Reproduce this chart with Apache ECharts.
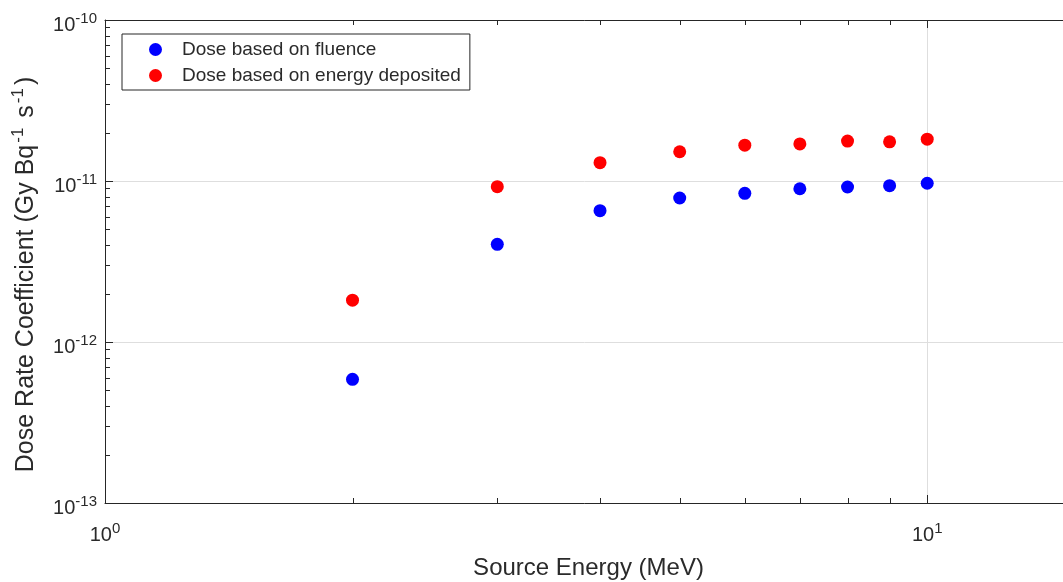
<!DOCTYPE html>
<html>
<head>
<meta charset="utf-8">
<script src="https://cdn.jsdelivr.net/npm/echarts@6/dist/echarts.min.js"></script>
<style>
  html, body { margin: 0; padding: 0; background: #fff; }
  #chart { width: 1063px; height: 582px; }
</style>
</head>
<body>
<div id="chart"></div>
<script>
// Source energies (MeV)
const energies = [2, 3, 4, 5, 6, 7, 8, 9, 10];
// Dose rate coefficients (Gy Bq^-1 s^-1)
const doseFluence = [5.86e-13, 4.04e-12, 6.54e-12, 7.84e-12, 8.38e-12, 8.95e-12, 9.18e-12, 9.35e-12, 9.68e-12];
const doseDeposited = [1.82e-12, 9.22e-12, 1.30e-11, 1.52e-11, 1.67e-11, 1.70e-11, 1.77e-11, 1.75e-11, 1.82e-11];
const seriesNames = ['Dose based on fluence', 'Dose based on energy deposited'];
// Axis limits
const xLimits = [1, 15];
const yLimits = [1e-13, 1e-10];
// Minor (log) tick positions
const xMinorTicks = [2, 3, 4, 5, 6, 7, 8, 9];
const yMinorTicks = [];
[1e-13, 1e-12, 1e-11].forEach(d => { for (let k = 2; k <= 9; k++) yMinorTicks.push(k * d); });

const FONT = "'Liberation Sans', Arial, Helvetica, sans-serif";
const INK = '#2a2a2a';
const AXIS = '#262626';

function powLabel(v) {
  const e = Math.round(Math.log10(v));
  if (Math.abs(Math.log10(v) - e) > 1e-6) return '';
  return '{b|10}{s|' + e + '}';
}
const tickRich = {
  b: { fontSize: 20, lineHeight: 30, verticalAlign: 'bottom', color: INK, fontFamily: FONT },
  s: { fontSize: 15, lineHeight: 15, verticalAlign: 'top', color: INK, fontFamily: FONT, padding: [6, 0, 0, 0] }
};

const pair = (xs, ys) => xs.map((x, i) => [x, ys[i]]);
const tickStyle = { stroke: AXIS, lineWidth: 1 };

const chart = echarts.init(document.getElementById('chart'), null, { renderer: 'canvas' });
chart.setOption({
  backgroundColor: '#ffffff',
  animation: false,
  grid: { left: 105, top: 20, width: 967, height: 483, outerBoundsMode: 'none' },
  legend: {
    data: seriesNames,
    orient: 'vertical',
    left: 122, top: 34,
    padding: [6, 9, 5, 27],
    itemWidth: 13, itemHeight: 13, itemGap: 7,
    icon: 'circle',
    borderColor: AXIS, borderWidth: 1,
    backgroundColor: '#ffffff',
    textStyle: { fontSize: 19, color: INK, fontFamily: FONT, padding: [0, 0, 0, 15] }
  },
  xAxis: [{
    type: 'log', logBase: 10, min: xLimits[0], max: xLimits[1], interval: 1,
    name: 'Source Energy (MeV)', nameLocation: 'middle', nameGap: 53,
    nameTextStyle: { fontSize: 24, color: INK, fontFamily: FONT },
    axisLine: { show: true, lineStyle: { color: AXIS, width: 1 } },
    axisTick: { show: true, inside: true, length: 8, lineStyle: { color: AXIS } },
    axisLabel: { margin: 12, formatter: powLabel, rich: tickRich },
    splitLine: { show: true, lineStyle: { color: '#dedede', width: 1 } }
  }, {
    type: 'log', logBase: 10, min: xLimits[0], max: xLimits[1], interval: 1,
    position: 'top',
    axisLine: { show: true, lineStyle: { color: AXIS, width: 1 } },
    axisTick: { show: true, inside: true, length: 8, lineStyle: { color: AXIS } },
    axisLabel: { show: false },
    splitLine: { show: false }
  }],
  yAxis: [{
    type: 'log', logBase: 10, min: yLimits[0], max: yLimits[1], interval: 1,
    name: 'Dose Rate Coefficient (Gy Bq{s|-1} s{s|-1})',
    nameLocation: 'middle', nameGap: 62, nameRotate: 90,
    nameTextStyle: {
      fontSize: 25, color: INK, fontFamily: FONT,
      lineHeight: 32, verticalAlign: 'bottom',
      padding: [0, 26, 0, 0],
      rich: {
        s: { fontSize: 17, lineHeight: 17, verticalAlign: 'top', color: INK, fontFamily: FONT, padding: [0, 3, 0, 2] }
      }
    },
    axisLine: { show: true, lineStyle: { color: AXIS, width: 1 } },
    axisTick: { show: true, inside: true, length: 8, lineStyle: { color: AXIS } },
    axisLabel: { margin: 8, formatter: powLabel, rich: tickRich },
    splitLine: { show: true, lineStyle: { color: '#dedede', width: 1 } }
  }],
  series: [
    {
      name: seriesNames[0], type: 'scatter', symbol: 'circle', symbolSize: 13,
      itemStyle: { color: '#0000ff', opacity: 1 },
      data: pair(energies, doseFluence), z: 5
    },
    {
      name: seriesNames[1], type: 'scatter', symbol: 'circle', symbolSize: 13,
      itemStyle: { color: '#ff0000', opacity: 1 },
      data: pair(energies, doseDeposited), z: 5
    },
    {
      // log-spaced minor ticks along the bottom and top edges
      type: 'custom', silent: true, clip: false, z: 4,
      dimensions: ['x', 'y'],
      encode: { x: 'x', y: 'y' },
      data: xMinorTicks.map(v => [v, yLimits[0]]),
      renderItem: function (params, api) {
        const cs = params.coordSys;
        const p = api.coord([api.value(0), api.value(1)]);
        const x = Math.round(p[0]) + 0.5;
        return {
          type: 'group', children: [
            { type: 'line', shape: { x1: x, y1: cs.y + cs.height, x2: x, y2: cs.y + cs.height - 5 }, style: tickStyle },
            { type: 'line', shape: { x1: x, y1: cs.y, x2: x, y2: cs.y + 5 }, style: tickStyle }
          ]
        };
      }
    },
    {
      // log-spaced minor ticks along the left edge
      type: 'custom', silent: true, clip: false, z: 4,
      dimensions: ['x', 'y'],
      encode: { x: 'x', y: 'y' },
      data: yMinorTicks.map(v => [xLimits[0], v]),
      renderItem: function (params, api) {
        const cs = params.coordSys;
        const p = api.coord([api.value(0), api.value(1)]);
        const y = Math.round(p[1]) + 0.5;
        return { type: 'line', shape: { x1: cs.x, y1: y, x2: cs.x + 5, y2: y }, style: tickStyle };
      }
    }
  ]
});
</script>
</body>
</html>
